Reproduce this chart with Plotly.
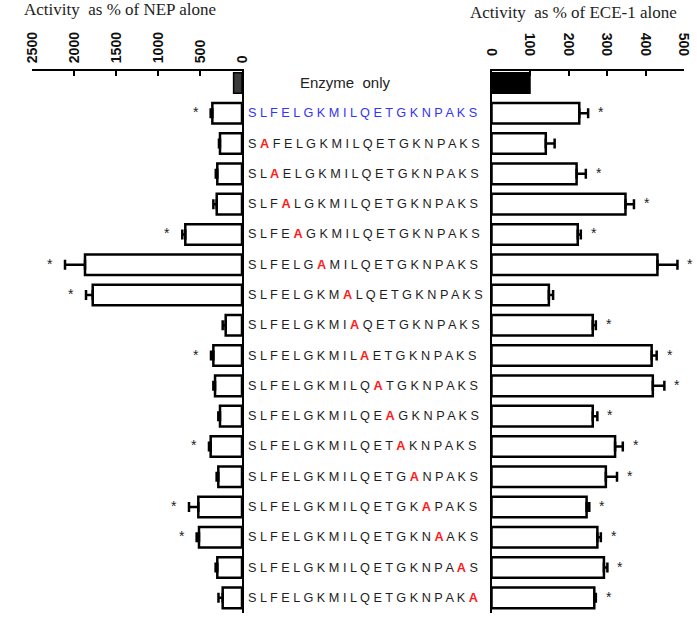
import plotly.graph_objects as go

# ---------------- data ----------------
wild_type = "SLFELGKMILQETGKNPAKS"
# peptides in display order, first = wild type, others = alanine substitutions
peptides = [
    "SLFELGKMILQETGKNPAKS",
    "SAFELGKMILQETGKNPAKS",
    "SLAELGKMILQETGKNPAKS",
    "SLFALGKMILQETGKNPAKS",
    "SLFEAGKMILQETGKNPAKS",
    "SLFELGAMILQETGKNPAKS",
    "SLFELGKMALQETGKNPAKS",
    "SLFELGKMIAQETGKNPAKS",
    "SLFELGKMILAETGKNPAKS",
    "SLFELGKMILQATGKNPAKS",
    "SLFELGKMILQEAGKNPAKS",
    "SLFELGKMILQETAKNPAKS",
    "SLFELGKMILQETGANPAKS",
    "SLFELGKMILQETGKAPAKS",
    "SLFELGKMILQETGKNAAKS",
    "SLFELGKMILQETGKNPAAS",
    "SLFELGKMILQETGKNPAKA",
]
control_label = "Enzyme  only"

nep_control = 100
ece_control = 100

nep_values = [353, 262, 294, 301, 675, 1869, 1777, 194, 341, 321, 262, 373, 282, 520, 512, 294, 230]
nep_err    = [20, 12, 18, 40, 36, 238, 80, 36, 28, 20, 20, 20, 20, 111, 28, 20, 50]
nep_sig    = [1, 0, 0, 0, 1, 1, 1, 0, 1, 0, 0, 1, 0, 1, 1, 0, 0]

ece_values = [228, 141, 221, 348, 224, 431, 149, 263, 416, 419, 263, 321, 297, 247, 275, 292, 267]
ece_err    = [23, 23, 24, 22, 8, 52, 11, 8, 13, 30, 12, 20, 29, 7, 9, 9, 4]
ece_sig    = [1, 0, 1, 1, 1, 1, 0, 1, 1, 1, 1, 1, 1, 1, 1, 1, 1]

nep_ticks = [0, 500, 1000, 1500, 2000, 2500]
ece_ticks = [0, 100, 200, 300, 400, 500]

nep_title = "Activity  as % of NEP alone"
ece_title = "Activity  as % of ECE-1 alone"

# ---------------- figure ----------------
W, H = 697, 626


def px(x):
    return x / W


def py(y):
    return 1 - y / H


rows = list(range(1, len(peptides) + 1))

fig = go.Figure()

bar_w = 0.68
line_style = dict(color="black", width=2.5)
err_common = dict(type="data", symmetric=False, color="black", thickness=2.5, width=5)

# left panel: NEP
fig.add_trace(go.Bar(x=[nep_control], y=[0], orientation="h", width=bar_w,
                     marker=dict(color="#3a3a3a", line=dict(color="black", width=1.5)),
                     xaxis="x", yaxis="y", showlegend=False))
fig.add_trace(go.Bar(x=nep_values, y=rows, orientation="h", width=bar_w,
                     marker=dict(color="white", line=line_style),
                     error_x=dict(array=nep_err, arrayminus=[0] * len(nep_err), **err_common),
                     xaxis="x", yaxis="y", showlegend=False))

# right panel: ECE-1
fig.add_trace(go.Bar(x=[ece_control], y=[0], orientation="h", width=bar_w,
                     marker=dict(color="black", line=dict(color="black", width=1.5)),
                     xaxis="x2", yaxis="y2", showlegend=False))
fig.add_trace(go.Bar(x=ece_values, y=rows, orientation="h", width=bar_w,
                     marker=dict(color="white", line=line_style),
                     error_x=dict(array=ece_err, arrayminus=[0] * len(ece_err), **err_common),
                     xaxis="x2", yaxis="y2", showlegend=False))

annotations = []
star_font = dict(family="Liberation Sans", size=14, color="#222")

# significance stars
for r, v, e, s in zip(rows, nep_values, nep_err, nep_sig):
    if s:
        annotations.append(dict(x=v + e, y=r, xref="x", yref="y", text="*", showarrow=False,
                                xanchor="center", yanchor="middle", xshift=-15, yshift=1,
                                font=star_font))
for r, v, e, s in zip(rows, ece_values, ece_err, ece_sig):
    if s:
        annotations.append(dict(x=v + e, y=r, xref="x2", yref="y2", text="*", showarrow=False,
                                xanchor="center", yanchor="middle", xshift=13, yshift=1,
                                font=star_font))


# sequence labels
def seq_text(seq):
    parts = []
    for i, ch in enumerate(seq):
        if ch != wild_type[i]:
            parts.append(f"<span style='color:#ff1a1a'><b>{ch}</b></span>")
        else:
            parts.append(ch)
    return " ".join(parts)


for r, seq in zip(rows, peptides):
    col = "#3434f2" if seq == wild_type else "#1e1e1e"
    annotations.append(dict(x=px(246), y=r, xref="paper", yref="y", text=seq_text(seq),
                            showarrow=False, xanchor="left", yanchor="middle",
                            font=dict(family="Liberation Sans", size=12.7, color=col)))

annotations.append(dict(x=px(345), y=0, xref="paper", yref="y", text=control_label,
                        showarrow=False, xanchor="center", yanchor="middle",
                        font=dict(family="Liberation Sans", size=15, color="#222")))

# titles
annotations.append(dict(x=px(120), y=py(10), xref="paper", yref="paper", text=nep_title,
                        showarrow=False, xanchor="center", yanchor="middle",
                        font=dict(family="Liberation Serif", size=17, color="#222")))
annotations.append(dict(x=px(573), y=py(13), xref="paper", yref="paper", text=ece_title,
                        showarrow=False, xanchor="center", yanchor="middle",
                        font=dict(family="Liberation Serif", size=17, color="#222")))

y_dom = [py(613), py(71)]
y_rng = [17.5, -0.396]

axis_common = dict(showgrid=False, zeroline=False, showline=True, linecolor="black", linewidth=2,
                   ticks="inside", ticklen=5, tickwidth=2, tickcolor="black", automargin=False,
                   tickfont=dict(family="Liberation Sans", size=14, color="#111", weight="bold"))

fig.update_layout(
    width=W, height=H,
    margin=dict(l=0, r=0, t=0, b=0, autoexpand=False),
    paper_bgcolor="white", plot_bgcolor="white",
    barmode="overlay",
    xaxis=dict(domain=[px(32), px(242)], range=[2500, 0], side="top", anchor="y",
               tickvals=nep_ticks, tickangle=-90, ticklabelstandoff=3, **axis_common),
    xaxis2=dict(domain=[px(491.5), px(684)], range=[0, 500], side="top", anchor="y2",
                tickvals=ece_ticks, tickangle=90, ticklabelstandoff=8, **axis_common),
    yaxis=dict(domain=y_dom, range=y_rng, anchor="x", side="right", showgrid=False,
               zeroline=False, showline=True, linecolor="black", linewidth=2,
               showticklabels=False, ticks="", automargin=False),
    yaxis2=dict(domain=y_dom, range=y_rng, anchor="x2", side="left", showgrid=False,
                zeroline=False, showline=True, linecolor="black", linewidth=2,
                showticklabels=False, ticks="", automargin=False),
    annotations=annotations,
    showlegend=False,
)

# remove the browser's default page margin so the figure sits at the window origin
fig.write_html(
    "out.html",
    config={"displayModeBar": False, "staticPlot": True},
    post_script="document.body.style.margin='0';document.body.style.overflow='hidden';",
)
